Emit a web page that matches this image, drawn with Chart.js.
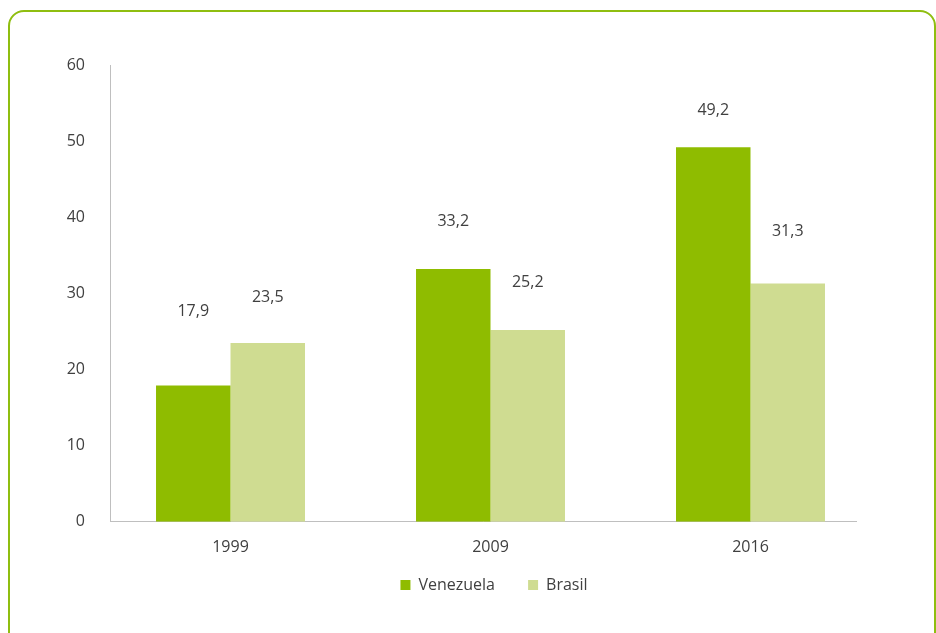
<!DOCTYPE html>
<html>
<head>
<meta charset="utf-8">
<script src="https://cdn.jsdelivr.net/npm/chart.js@4"></script>
<style>
  html, body { margin: 0; padding: 0; background: #fff; overflow: hidden; }
  .frame {
    position: absolute; left: 8px; top: 10px; width: 924px; height: 700px;
    border: 2px solid #8fbe10; border-radius: 16px;
  }
  #chart { position: absolute; left: 0; top: 0; }
</style>
</head>
<body>
<div class="frame"></div>
<canvas id="chart" width="936" height="633"></canvas>
<script>
let years = ["1999", "2009", "2016"];
let venezuela = [17.9, 33.2, 49.2];
let brasil = [23.5, 25.2, 31.3];
let yTicks = [0, 10, 20, 30, 40, 50, 60];

// gap between bar top and its value label (placed by hand in the original)
let labelGaps = [[74, 48, 37], [45, 48, 52]];

let textColor = '#404040';
let font = { family: "'Open Sans', 'Noto Sans', sans-serif", size: 16 };

function toPoints(arr) {
  return arr.map((v, i) => ({ x: i, y: v }));
}

// Value labels above bars, comma decimals
let valueLabels = {
  id: 'valueLabels',
  afterDatasetsDraw(chart) {
    let ctx = chart.ctx;
    ctx.save();
    ctx.font = font.size + 'px ' + font.family;
    ctx.fillStyle = textColor;
    ctx.textAlign = 'center';
    ctx.textBaseline = 'middle';
    chart.data.datasets.forEach((ds, d) => {
      chart.getDatasetMeta(d).data.forEach((bar, i) => {
        let txt = ds.data[i].y.toFixed(1).replace('.', ',');
        ctx.fillText(txt, bar.x, bar.y - labelGaps[d][i]);
      });
    });
    ctx.restore();
  }
};

// legend sits a bit right of the plot centre in the original
let nudgeLegend = {
  id: 'nudgeLegend',
  afterLayout(chart) {
    chart.legend.left += 11;
    chart.legend.right += 11;
  }
};

new Chart(document.getElementById('chart'), {
  type: 'bar',
  data: {
    datasets: [
      {
        label: 'Venezuela',
        backgroundColor: '#8fbc00',
        data: toPoints(venezuela)
      },
      {
        label: 'Brasil',
        backgroundColor: '#cfdc91',
        data: toPoints(brasil)
      }
    ]
  },
  options: {
    responsive: false,
    animation: false,
    categoryPercentage: 0.573,
    barPercentage: 1.0,
    layout: { padding: { left: 0, right: 80, top: 65, bottom: 30 } },
    plugins: {
      tooltip: { enabled: false },
      legend: {
        position: 'bottom',
        fullSize: false,
        labels: {
          color: textColor,
          font: font,
          boxWidth: 10,
          boxHeight: 10,
          padding: 4,
          generateLabels(chart) {
            let items = Chart.defaults.plugins.legend.labels.generateLabels(chart);
            items.forEach(it => { it.lineWidth = 0; });
            items[0].text = items[0].text + '       ';
            return items;
          }
        }
      }
    },
    scales: {
      x: {
        type: 'linear',
        offset: false,
        min: -0.4635,
        max: 2.4058,
        grid: { display: false, drawTicks: false },
        border: { display: true, color: '#bfbfbf', width: 1 },
        afterBuildTicks(scale) {
          scale.ticks = years.map((y, i) => ({ value: i }));
        },
        ticks: {
          color: textColor,
          font: font,
          padding: 16,
          maxRotation: 0,
          callback: (value) => years[value]
        }
      },
      y: {
        min: 0,
        max: 60,
        grid: { display: false, drawTicks: false },
        border: { display: true, color: '#bfbfbf', width: 1 },
        afterBuildTicks(scale) {
          scale.ticks = yTicks.map(v => ({ value: v }));
        },
        afterFit(scale) {
          scale.width = 110;
        },
        ticks: {
          color: textColor,
          font: font,
          padding: 25
        }
      }
    }
  },
  plugins: [valueLabels, nudgeLegend]
});
</script>
</body>
</html>
